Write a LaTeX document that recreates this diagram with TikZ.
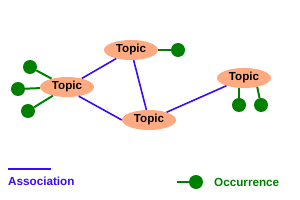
\documentclass[tikz,border=0pt]{standalone}
\usepackage{fontspec}
\setmainfont{Liberation Sans}
\usetikzlibrary{shapes.geometric}

\definecolor{topicfill}{RGB}{255,170,128}
\definecolor{assocblue}{RGB}{58,10,255}
\definecolor{occgreen}{RGB}{0,128,0}

\tikzset{
    topic/.style={ellipse, fill=topicfill, minimum width=54pt, minimum height=20pt,
        inner sep=0pt, font=\fontsize{11.6}{12}\selectfont\bfseries},
    occdot/.style={circle, fill=occgreen, minimum size=14pt, inner sep=0pt},
    assoc/.style={assocblue, line width=1.6pt},
    occline/.style={occgreen, line width=2pt}
}

\begin{document}
\begin{tikzpicture}[x=1pt, y=-1pt]
        \useasboundingbox (0,0) rectangle (300,200);

        % 1. Topic nodes
        \node[topic] (tleft)   at (67, 87)  {Topic};
        \node[topic] (ttop)    at (131, 50) {Topic};
        \node[topic] (tbottom) at (149, 120) {Topic};
        \node[topic] (tright)  at (244, 78) {Topic};

        % 2. Occurrences
        \node[occdot] (oa) at (30, 67) {};
        \node[occdot] (ob) at (18, 89) {};
        \node[occdot] (oc) at (28, 111) {};
        \node[occdot] (od) at (178, 50) {};
        \node[occdot] (oe) at (239, 105) {};
        \node[occdot] (of) at (261, 105) {};

        \draw[occline] (tleft) -- (oa);
        \draw[occline] (tleft) -- (ob);
        \draw[occline] (tleft) -- (oc);
        \draw[occline] (ttop) -- (od);
        \draw[occline] (tright.south -| oe) -- (oe);
        \draw[occline] (tright.-34) -- (of);

        % 3. Associations
        \draw[assoc] (tleft) -- (ttop);
        \draw[assoc] (ttop) -- (tbottom);
        \draw[assoc] (tleft.-38) -- (tbottom.west);
        \draw[assoc] (tbottom) -- (tright);

        % 4. Legend
        \coordinate (la) at (8, 169);
        \coordinate (lb) at (51, 169);
        \draw[assoc] (la) -- (lb);
        \node[assocblue, anchor=base west, font=\fontsize{11.7}{12}\selectfont\bfseries,
            inner sep=0pt] (ltext) at (8, 186) {Association};

        \node[occdot] (lg) at (196, 182) {};
        \coordinate (lgs) at (177, 182);
        \draw[occline] (lgs) -- (lg);
        \node[occgreen, anchor=base west, font=\fontsize{11.7}{12}\selectfont\bfseries,
            inner sep=0pt] (otext) at (214, 187) {Occurrence};
\end{tikzpicture}
\end{document}
